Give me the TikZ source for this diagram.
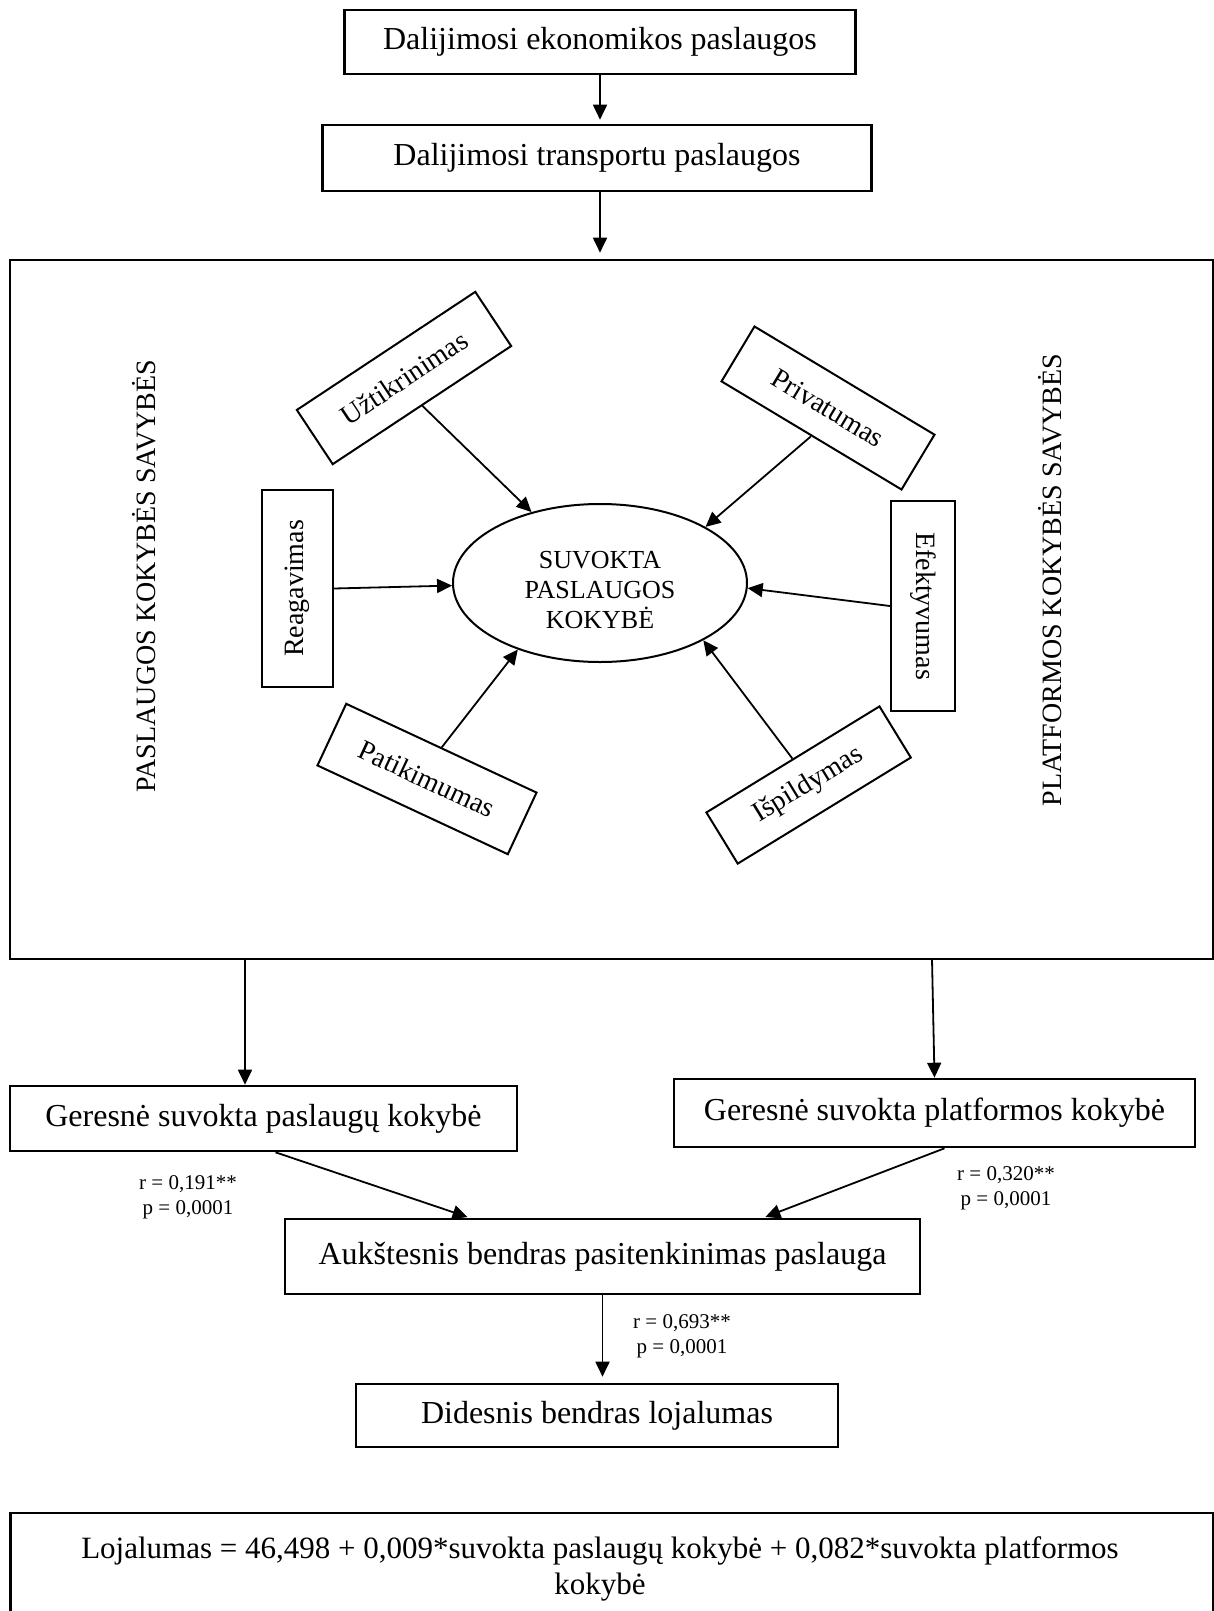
\documentclass[tikz,border=0pt]{standalone}
\usepackage{fontspec}
\setmainfont{Liberation Serif}
\usetikzlibrary{arrows.meta,shapes.geometric}
\begin{document}
\begin{tikzpicture}[x=0.5pt,y=-0.5pt,
  box/.style={draw, line width=1.3pt, inner sep=0pt, font=\fontsize{16}{19}\selectfont},
  rbox/.style={draw, line width=1pt, inner sep=0pt, font=\fontsize{14}{16}\selectfont},
  arr/.style={-{Triangle[length=7.5pt,width=7pt]}, line width=0.9pt},
  lab/.style={align=center, inner sep=0pt, font=\fontsize{10.5}{12.5}\selectfont},
  side/.style={rotate=90, inner sep=0pt, font=\fontsize{14}{16}\selectfont}]
\useasboundingbox (0,0) rectangle (1214,1611);
\fill[white] (0,0) rectangle (1214,1611);

% top chain
\node[box, minimum width=255.5pt, minimum height=32pt] (b1) at (600,42) {Dalijimosi ekonomikos paslaugos};
\node[box, minimum width=274.5pt, minimum height=33pt] (b2) at (597,158) {Dalijimosi transportu paslaugos};
\node[box, minimum width=601.5pt, minimum height=349.5pt] (frame) at (611.5,609.5) {};

\draw[arr, shorten >=2pt] (b1.south) -- (b1.south |- b2.north);
\draw[arr, shorten >=3pt] (b1.south |- b2.south) -- (b1.south |- frame.north);

% side labels
\node[side] (lside) at (144,576) {PASLAUGOS KOKYBĖS SAVYBĖS};
\node[side] (rside) at (1050,580) {PLATFORMOS KOKYBĖS SAVYBĖS};

% central ellipse
\node[ellipse, draw, line width=1pt, minimum width=147pt, minimum height=79pt,
      inner sep=0pt, align=center, font=\fontsize{13}{15}\selectfont] (ell) at (600,583)
      {\rule{0pt}{16pt}SUVOKTA\\PASLAUGOS\\KOKYBĖ};

% dimension boxes
\node[rbox, minimum width=107pt, minimum height=32.5pt, rotate=33.5] (utk) at (404,378) {Užtikrinimas};
\node[rbox, minimum width=105pt, minimum height=32pt, rotate=-31] (priv) at (828,408) {Privatumas};
\node[rbox, minimum width=98.5pt, minimum height=35.5pt, rotate=90] (reag) at (297.5,588.5) {Reagavimas};
\node[rbox, minimum width=105pt, minimum height=32pt, rotate=-90] (efek) at (923,606) {Efektyvumas};
\node[rbox, minimum width=105pt, minimum height=34pt, rotate=-25] (pat) at (427,779) {Patikimumas};
\node[rbox, minimum width=101.5pt, minimum height=30pt, rotate=31.5] (isp) at (808.6,785) {Išpildymas};

\draw[arr] (utk.south) -- (ell.134.6);
\draw[arr] (priv.south) -- (ell.28.1);
\draw[arr] (reag.south) -- (ell.181.5);
\draw[arr] (efek.south) -- (ell.358.2);
\draw[arr] (pat.north) -- (ell.219.4);
\draw[arr] (isp.north) -- (ell.331.8);

% lower chain
\node[box, minimum width=253.5pt, minimum height=32.5pt] (lbox) at (263.5,1118.5) {Geresnė suvokta paslaugų kokybė};
\node[box, minimum width=260.5pt, minimum height=34pt] (rbox) at (934.5,1113) {Geresnė suvokta platformos kokybė};
\node[box, minimum width=317.5pt, minimum height=37.5pt] (mbox) at (602.5,1256.5) {Aukštesnis bendras pasitenkinimas paslauga};
\node[box, minimum width=241pt, minimum height=31.5pt] (dbox) at (597,1415.5) {Didesnis bendras lojalumas};

\coordinate (la) at (245,959);
\coordinate (ra) at (932,959);
\draw[arr] (la) -- (la |- lbox.north);
\draw[arr] (ra) -- (rbox.north);

\draw[arr, shorten >=1pt] ([xshift=6pt]lbox.south) -- ([xshift=-66.5pt]mbox.north);
\draw[arr, shorten >=1pt] ([xshift=5pt]rbox.south) -- ([xshift=80.5pt]mbox.north);
\draw[arr, shorten >=3pt] (mbox.south) -- (mbox.south |- dbox.north);

\node[lab] (l1) at (188,1197) {r = 0,191**\\p = 0,0001};
\node[lab] (l2) at (1006,1188) {r = 0,320**\\p = 0,0001};
\node[lab] (l3) at (682,1336) {r = 0,693**\\p = 0,0001};

% formula box
\draw[line width=1.3pt] (10.5,1513) rectangle (1213,1680);
\node[align=center, inner sep=0pt, font=\fontsize{15.5}{18}\selectfont] (ftext) at (600,1569)
  {Lojalumas = 46,498 + 0,009*suvokta paslaugų kokybė + 0,082*suvokta platformos\\kokybė};
\end{tikzpicture}
\end{document}
